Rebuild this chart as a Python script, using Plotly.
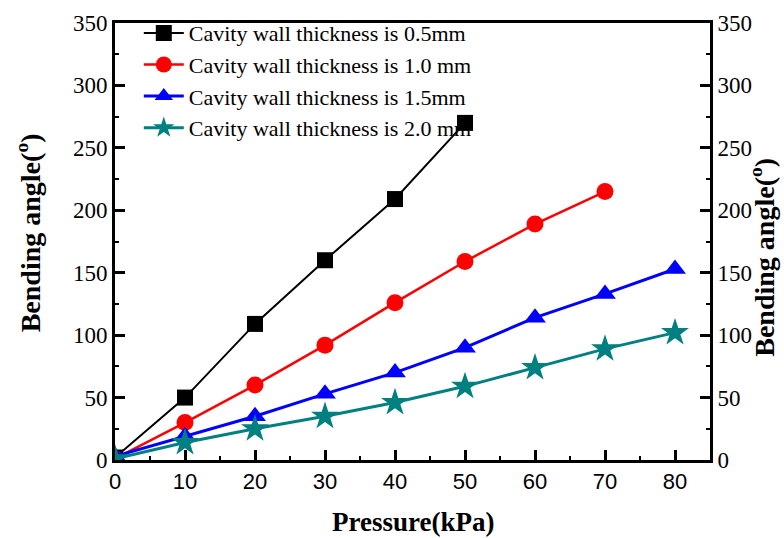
import plotly.graph_objects as go

pressure = [0, 10, 20, 30, 40, 50, 60, 70, 80]
angle_05 = [2, 50, 109, 160, 209, 270]
angle_10 = [1, 30, 60, 92, 126, 159, 189, 215]
angle_15 = [3, 19, 35, 53, 70, 90, 114, 133, 153]
angle_20 = [1, 14, 25, 35, 46, 59, 74, 89, 102]
y_ticks = [0, 50, 100, 150, 200, 250, 300, 350]
x_ticks = [0, 10, 20, 30, 40, 50, 60, 70, 80]

names = ["Cavity wall thickness is 0.5mm", "Cavity wall thickness is 1.0 mm",
         "Cavity wall thickness is 1.5mm", "Cavity wall thickness is 2.0 mm"]
series = [angle_05, angle_10, angle_15, angle_20]
colors = ["#000000", "#ff0000", "#0000ff", "#008080"]
symbols = ["square", "circle", "triangle-up", "star"]
sizes = [16, 17, 19, 21]
widths = [2, 2.5, 3, 3]

fig = go.Figure()
for nm, ys, c, s, sz, w in zip(names, series, colors, symbols, sizes, widths):
    fig.add_trace(go.Scatter(x=pressure[:len(ys)], y=ys, name=nm, mode="lines+markers",
                             line=dict(color=c, width=w),
                             marker=dict(symbol=s, size=sz, color=c, line=dict(width=0))))

# invisible copy so the right-hand axis is drawn
fig.add_trace(go.Scatter(x=pressure, y=angle_20, yaxis="y2", mode="markers",
                         marker=dict(opacity=0), showlegend=False, hoverinfo="skip"))

serif = "Liberation Serif"
sans = "Liberation Sans"

yax = dict(range=[0, 350], tickvals=y_ticks,
           ticks="inside", ticklen=10, tickwidth=2.5, tickcolor="black",
           minor=dict(ticks="inside", ticklen=4, tickwidth=2, dtick=25, tick0=0, tickcolor="black"),
           showline=True, linewidth=3, linecolor="black",
           showgrid=False, zeroline=False,
           tickfont=dict(family=serif, size=23, color="black"))

fig.update_layout(
    width=784, height=538,
    margin=dict(l=115, r=74, t=21, b=78),
    plot_bgcolor="white", paper_bgcolor="white",
    showlegend=True,
    legend=dict(x=0.040, y=1.025, xanchor="left", yanchor="top",
                bgcolor="rgba(0,0,0,0)", font=dict(family=serif, size=22, color="black"),
                tracegroupgap=0, itemwidth=40),
    xaxis=dict(range=[0, 85], tickvals=x_ticks,
               ticks="inside", ticklen=10, tickwidth=2.5, tickcolor="black",
               minor=dict(ticks="inside", ticklen=4, tickwidth=2, dtick=5, tick0=0, tickcolor="black"),
               showline=True, linewidth=3, linecolor="black", mirror=True,
               showgrid=False, zeroline=False,
               tickfont=dict(family=sans, size=22, color="black")),
    yaxis=yax,
    yaxis2=dict(yax, overlaying="y", side="right", anchor="x"),
    annotations=[
        dict(text="<b>Bending angle(<sup>o</sup>)</b>", xref="paper", yref="paper",
             x=-0.146, y=0.519, xanchor="center", yanchor="middle", textangle=-90,
             showarrow=False, font=dict(family=serif, size=28, color="black")),
        dict(text="<b>Bending angle(<sup>o</sup>)</b>", xref="paper", yref="paper",
             x=1.089, y=0.465, xanchor="center", yanchor="middle", textangle=-90,
             showarrow=False, font=dict(family=serif, size=28, color="black")),
        dict(text="<b>Pressure(kPa)</b>", xref="paper", yref="paper",
             x=0.5, y=-0.141, xanchor="center", yanchor="middle",
             showarrow=False, font=dict(family=serif, size=27, color="black")),
    ],
)

fig.write_html("out.html")
